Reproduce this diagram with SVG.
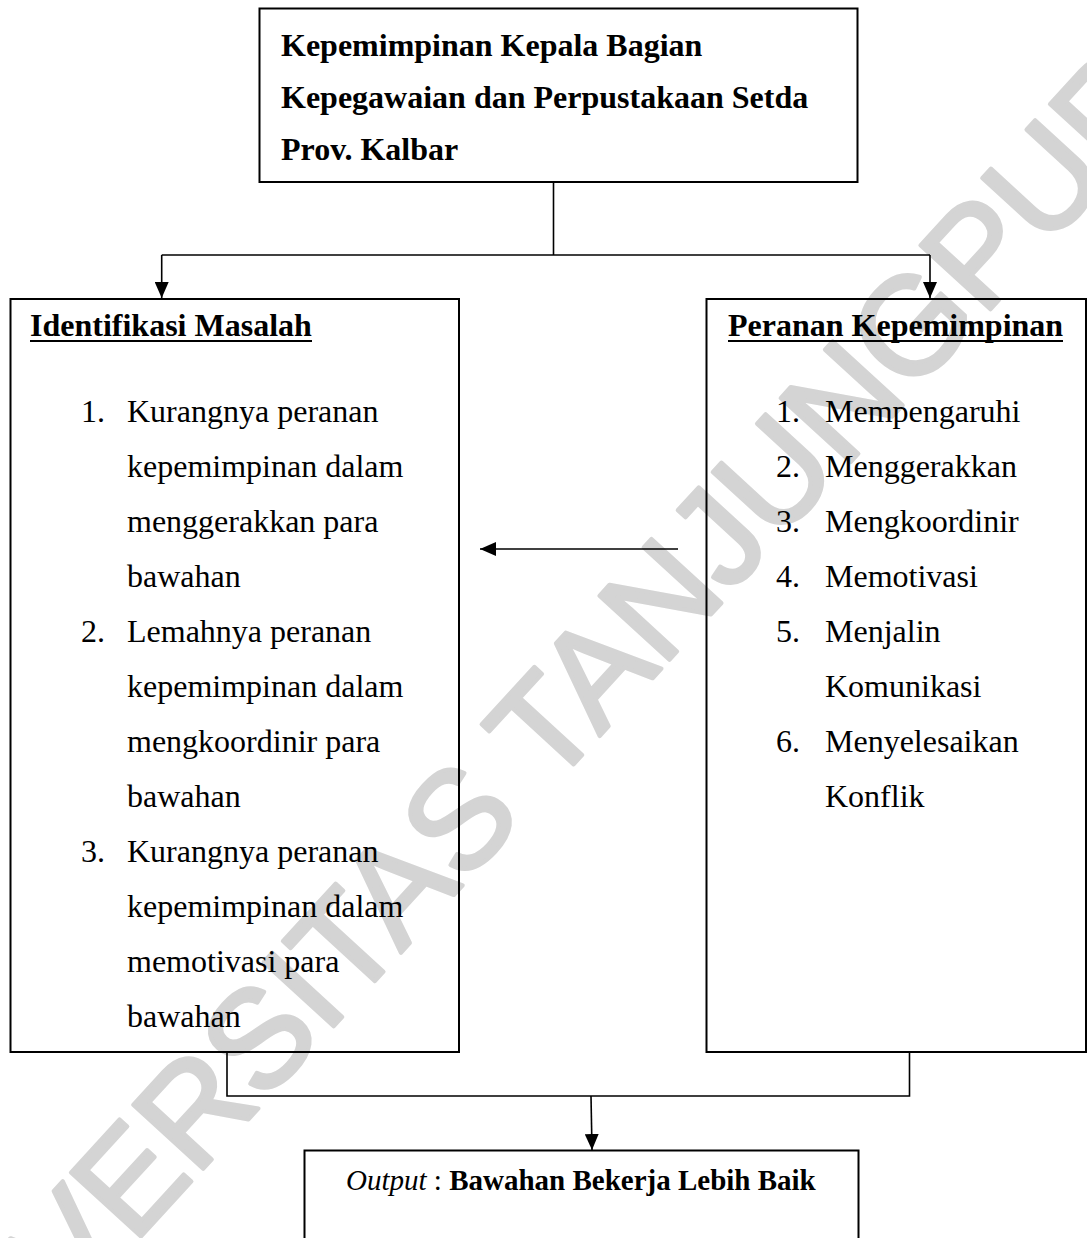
<svg xmlns="http://www.w3.org/2000/svg" width="1087" height="1238" viewBox="0 0 1087 1238">
<style>
.box{fill:#fff;fill-opacity:0;stroke:#000;stroke-width:2}
.t{font-family:"Liberation Serif","Times New Roman",serif;font-size:32px;fill:#000}
.b{font-weight:bold}
.i{font-style:italic}
.o{font-size:29px}
.c{fill:none;stroke:#000;stroke-width:1.6}
.ul{stroke:#000;stroke-width:2}
.wm{font-family:"Liberation Sans",Arial,sans-serif;font-weight:normal;font-size:138px;fill:#d4d4d4;stroke:#d4d4d4;stroke-width:4;stroke-linejoin:round}
</style>
<defs>
<marker id="ah" markerUnits="userSpaceOnUse" markerWidth="16" markerHeight="14" viewBox="0 0 16 14" refX="16" refY="7" orient="auto">
<path d="M0,0 L16,7 L0,14 z" fill="#000"/>
</marker>
</defs>
<rect width="1087" height="1238" fill="#fff"/>
<g id="watermark">
<text class="wm" transform="translate(508,762) rotate(-47.5)" x="-939" y="50">UNIVERSITAS TANJUNGPURA</text>
</g>
<g id="connectors">
<path class="c" d="M553.5,182 V255"/>
<path class="c" d="M161.7,255 H930"/>
<path class="c" d="M161.7,255 V298" marker-end="url(#ah)"/>
<path class="c" d="M930,255 V298" marker-end="url(#ah)"/>
<path class="c" d="M678,549 H480" stroke-width="2.2" marker-end="url(#ah)"/>
<path class="c" d="M227,1052 V1096 H909.5 V1052"/>
<path class="c" d="M591,1096 L592,1150" marker-end="url(#ah)"/>
</g>
<g id="node-top">
<rect class="box" x="259.5" y="8.5" width="598" height="173.5"/>
<text class="t b" x="281" y="56">Kepemimpinan Kepala Bagian</text>
<text class="t b" x="281" y="108">Kepegawaian dan Perpustakaan Setda</text>
<text class="t b" x="281" y="160">Prov. Kalbar</text>
</g>
<g id="node-identifikasi">
<rect class="box" x="10.5" y="299" width="448.5" height="753"/>
<text class="t b" x="30" y="336">Identifikasi Masalah</text>
<line class="ul" x1="30" y1="341" x2="312" y2="341"/>
<text class="t" x="81" y="422">1.</text>
<text class="t" x="127" y="422">Kurangnya peranan</text>
<text class="t" x="127" y="477">kepemimpinan dalam</text>
<text class="t" x="127" y="532">menggerakkan para</text>
<text class="t" x="127" y="587">bawahan</text>
<text class="t" x="81" y="642">2.</text>
<text class="t" x="127" y="642">Lemahnya peranan</text>
<text class="t" x="127" y="697">kepemimpinan dalam</text>
<text class="t" x="127" y="752">mengkoordinir para</text>
<text class="t" x="127" y="807">bawahan</text>
<text class="t" x="81" y="862">3.</text>
<text class="t" x="127" y="862">Kurangnya peranan</text>
<text class="t" x="127" y="917">kepemimpinan dalam</text>
<text class="t" x="127" y="972">memotivasi para</text>
<text class="t" x="127" y="1027">bawahan</text>
</g>
<g id="node-peranan">
<rect class="box" x="706.5" y="299" width="379.5" height="753"/>
<text class="t b" x="728" y="336">Peranan Kepemimpinan</text>
<line class="ul" x1="728" y1="341" x2="1063" y2="341"/>
<text class="t" x="776" y="422">1.</text>
<text class="t" x="825" y="422">Mempengaruhi</text>
<text class="t" x="776" y="477">2.</text>
<text class="t" x="825" y="477">Menggerakkan</text>
<text class="t" x="776" y="532">3.</text>
<text class="t" x="825" y="532">Mengkoordinir</text>
<text class="t" x="776" y="587">4.</text>
<text class="t" x="825" y="587">Memotivasi</text>
<text class="t" x="776" y="642">5.</text>
<text class="t" x="825" y="642">Menjalin</text>
<text class="t" x="825" y="697">Komunikasi</text>
<text class="t" x="776" y="752">6.</text>
<text class="t" x="825" y="752">Menyelesaikan</text>
<text class="t" x="825" y="807">Konflik</text>
</g>
<g id="node-output">
<rect class="box" x="304.5" y="1150.5" width="554" height="110"/>
<text class="t o" x="346" y="1190"><tspan class="i">Output</tspan> : <tspan class="b">Bawahan Bekerja Lebih Baik</tspan></text>
</g>
</svg>
